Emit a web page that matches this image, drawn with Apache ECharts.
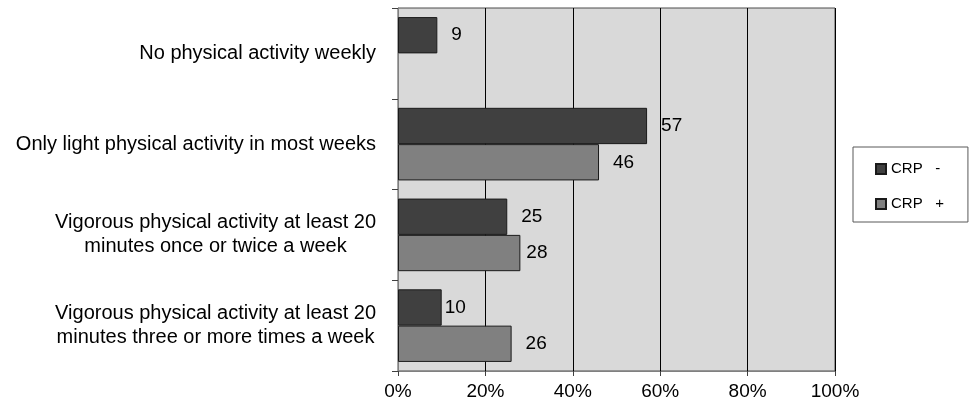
<!DOCTYPE html>
<html>
<head>
<meta charset="utf-8">
<title>Physical activity by CRP group</title>
<script src="https://cdn.jsdelivr.net/npm/echarts@6/dist/echarts.min.js"></script>
<style>
  html, body { margin: 0; padding: 0; background: #ffffff; }
  #chart { width: 969px; height: 416px; }
</style>
</head>
<body>
<div id="chart"></div>
<script>
// Activity categories, top to bottom
const categories = [
  'No physical activity weekly',
  'Only light physical activity in most weeks',
  'Vigorous physical activity at least 20\nminutes once or twice a week',
  'Vigorous physical activity at least 20\nminutes three or more times a week'
];

// Share of each group (%), null where the group has no entry
const crpNegative = [9, 57, 25, 10];
const crpPositive = [null, 46, 28, 26];

const seriesNames = ['CRP -', 'CRP +'];
const xTicks = [0, 20, 40, 60, 80, 100];

// Gap between a bar end and its value label (px); a few labels sit closer
const gapNeg = [14, 14, 14, 3];
const gapPos = [14, 14, 6, 14];

const FONT = "'Liberation Sans', Arial, sans-serif";

function withLabelGaps(values, gaps) {
  return values.map((v, i) => (v === null ? null : { value: v, label: { distance: gaps[i] } }));
}

const chart = echarts.init(document.getElementById('chart'), null, { renderer: 'canvas' });

chart.setOption({
  animation: false,
  backgroundColor: '#ffffff',
  grid: {
    left: 398,
    top: 8,
    right: 134,
    bottom: 45,
    containLabel: false,
    show: true,
    backgroundColor: '#d9d9d9',
    borderColor: '#4d4d4d',
    borderWidth: 1
  },
  legend: {
    orient: 'vertical',
    left: 853,
    top: 147,
    padding: [13, 24, 9, 22],
    itemGap: 17,
    itemWidth: 10,
    itemHeight: 10,
    icon: 'rect',
    borderColor: '#595959',
    borderWidth: 1,
    backgroundColor: '#ffffff',
    data: seriesNames,
    formatter: name => name.replace(' ', '   '),
    textStyle: { fontFamily: FONT, fontSize: 15, color: '#000000', lineHeight: 18 }
  },
  xAxis: {
    type: 'value',
    min: xTicks[0],
    max: xTicks[xTicks.length - 1],
    interval: xTicks[1] - xTicks[0],
    axisLine: { show: true, lineStyle: { color: '#808080', width: 1 } },
    axisTick: { show: true, length: 5, lineStyle: { color: '#404040', width: 1 } },
    axisLabel: {
      margin: 11,
      formatter: v => v + '%',
      fontFamily: FONT,
      fontSize: 19,
      color: '#000000'
    },
    splitLine: { show: true, lineStyle: { color: '#000000', width: 1 } }
  },
  yAxis: {
    type: 'category',
    inverse: true,
    data: categories,
    axisLine: { show: true, lineStyle: { color: '#808080', width: 1 } },
    axisTick: { show: true, length: 6, lineStyle: { color: '#404040', width: 1 } },
    axisLabel: {
      margin: 22,
      interval: 0,
      fontFamily: FONT,
      fontSize: 20,
      lineHeight: 24,
      color: '#000000',
      formatter: v => v.split('\n').map(s => '{c|' + s + '}').join('\n'),
      rich: {
        c: { align: 'center', fontFamily: FONT, fontSize: 20, lineHeight: 24, color: '#000000' }
      }
    },
    splitLine: { show: false }
  },
  series: [
    {
      name: seriesNames[0],
      type: 'bar',
      data: withLabelGaps(crpNegative, gapNeg),
      barGap: '0%',
      barCategoryGap: '20%',
      itemStyle: { color: '#404040', borderColor: '#1a1a1a', borderWidth: 1 },
      label: {
        show: true,
        position: 'right',
        fontFamily: FONT,
        fontSize: 19,
        color: '#000000'
      }
    },
    {
      name: seriesNames[1],
      type: 'bar',
      data: withLabelGaps(crpPositive, gapPos),
      barGap: '0%',
      barCategoryGap: '20%',
      itemStyle: { color: '#808080', borderColor: '#1a1a1a', borderWidth: 1 },
      label: {
        show: true,
        position: 'right',
        fontFamily: FONT,
        fontSize: 19,
        color: '#000000'
      }
    }
  ]
});
</script>
</body>
</html>
